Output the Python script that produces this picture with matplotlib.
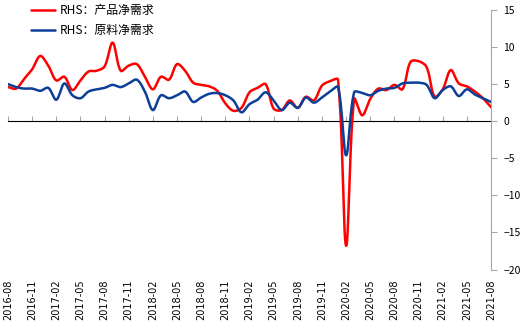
import numpy as np
import matplotlib
matplotlib.use("Agg")
import matplotlib.pyplot as plt

plt.rcParams['font.family'] = ['Noto Sans CJK SC', 'DejaVu Sans']

# Monthly series, 2016-08 .. 2021-08
months = [f"{y}-{m:02d}" for y in range(2016, 2022) for m in range(1, 13)]
months = months[months.index("2016-08"):months.index("2021-08") + 1]

product_net_demand = [4.6, 4.4, 5.7, 7.0, 8.8, 7.5, 5.5, 6.0, 4.2, 5.5,
                      6.7, 6.8, 7.4, 10.6, 6.8, 7.5, 7.7, 6.0, 4.3, 6.0,
                      5.6, 7.7, 6.8, 5.2, 4.9, 4.7, 4.1, 2.4, 1.4, 1.8,
                      3.9, 4.5, 5.0, 1.7, 1.5, 2.8, 1.8, 3.3, 2.8, 4.8,
                      5.4, 5.6, -16.8, 3.0, 0.8, 3.0, 4.4, 4.2, 4.9, 4.3,
                      8.0, 8.1, 7.3, 3.3, 4.3, 6.9, 5.1, 4.7, 4.0, 3.1, 1.9]

material_net_demand = [5.0, 4.6, 4.4, 4.4, 4.1, 4.5, 2.9, 5.1, 3.5, 3.1,
                       4.0, 4.3, 4.5, 4.9, 4.6, 5.1, 5.6, 4.0, 1.5, 3.5,
                       3.1, 3.5, 4.0, 2.6, 3.2, 3.7, 3.8, 3.5, 2.8, 1.2,
                       2.3, 2.9, 3.9, 2.8, 1.5, 2.5, 1.8, 3.2, 2.5, 3.2,
                       4.0, 4.6, -4.6, 3.9, 3.8, 3.5, 4.1, 4.4, 4.5, 5.1,
                       5.2, 5.2, 4.9, 3.1, 4.2, 4.7, 3.4, 4.3, 3.6, 3.1, 2.6]

series_labels = ["RHS：产品净需求", "RHS：原料净需求"]
series_colors = ["#FF0000", "#0D3F99"]

y_ticks = [-20, -15, -10, -5, 0, 5, 10, 15]

fig = plt.figure(figsize=(5.22, 3.36), dpi=100)
ax = fig.add_axes([8 / 522, 1 - 269.5 / 336, 483 / 522, 259.5 / 336])
ax.set_xlim(0, len(months) - 1)
ax.set_ylim(-20, 15)


def smooth(values, ax, steps=24):
    """Bezier smoothing through every point; control arms are scaled by the
    relative on-screen length of the neighbouring segments, which keeps the
    curve from overshooting next to a steep jump."""
    data = np.column_stack([np.arange(len(values), dtype=float),
                            np.asarray(values, dtype=float)])
    pts = ax.transData.transform(data)
    n = len(pts)
    tang = np.zeros_like(pts)
    arm_out = np.zeros(n)
    arm_in = np.zeros(n)
    for i in range(n):
        prev_p = pts[max(i - 1, 0)]
        next_p = pts[min(i + 1, n - 1)]
        tang[i] = next_p - prev_p
        d_prev = np.hypot(*(pts[i] - prev_p))
        d_next = np.hypot(*(next_p - pts[i]))
        tot = d_prev + d_next
        arm_out[i] = d_next / tot / 3.0 if tot else 0.0
        arm_in[i] = d_prev / tot / 3.0 if tot else 0.0
    t = np.linspace(0, 1, steps)[:, None]
    out = []
    for i in range(n - 1):
        p0, p1 = pts[i], pts[i + 1]
        c1 = p0 + tang[i] * arm_out[i]
        c2 = p1 - tang[i + 1] * arm_in[i + 1]
        seg = ((1 - t) ** 3) * p0 + 3 * ((1 - t) ** 2) * t * c1 \
            + 3 * (1 - t) * t ** 2 * c2 + t ** 3 * p1
        out.append(seg if i == 0 else seg[1:])
    curve = ax.transData.inverted().transform(np.vstack(out))
    return curve[:, 0], curve[:, 1]


for vals, lab, col in zip([product_net_demand, material_net_demand],
                          series_labels, series_colors):
    xs, ys = smooth(vals, ax)
    ax.plot(xs, ys, color=col, lw=1.8, label=lab, solid_capstyle='round')

axis_gray = "#A6A6A6"

# right-hand value axis
ax.yaxis.tick_right()
ax.set_yticks(y_ticks)
ax.tick_params(axis='y', direction='out', length=4, width=0.8,
               color=axis_gray, labelsize=7.5, pad=5)
for s in ['left', 'top', 'bottom']:
    ax.spines[s].set_visible(False)
ax.spines['right'].set_color(axis_gray)
ax.spines['right'].set_linewidth(0.8)

# date labels along the bottom edge
tick_pos = list(range(0, len(months), 3))
ax.set_xticks(tick_pos)
ax.set_xticklabels([months[i] for i in tick_pos], rotation=90, fontsize=7,
                   family='DejaVu Sans')
ax.tick_params(axis='x', length=0, pad=7)

# category axis drawn through zero
zero_frac = (0 - (-20)) / (15 - (-20))
sec = ax.secondary_xaxis(zero_frac)
sec.set_xticks(tick_pos)
sec.set_xticklabels([])
sec.tick_params(axis='x', direction='out', length=3.5, width=0.8,
                color=axis_gray)
sec.spines['bottom'].set_color(axis_gray)
sec.spines['bottom'].set_linewidth(0.8)

fig.legend(loc='upper left', bbox_to_anchor=(31 / 522, 1 - 4 / 336),
           frameon=False, fontsize=8.6, handlelength=2.0,
           handletextpad=0.4, labelspacing=0.6, borderpad=0,
           borderaxespad=0)

fig.savefig("out.png", dpi=100)
